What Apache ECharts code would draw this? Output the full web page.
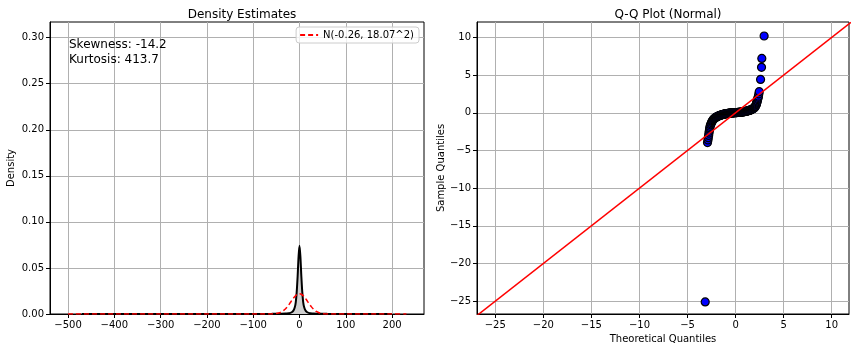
<!DOCTYPE html>
<html>
<head>
<meta charset="utf-8">
<script src="https://cdn.jsdelivr.net/npm/echarts@6/dist/echarts.min.js"></script>
<style>
  html, body { margin: 0; padding: 0; background: #fff; }
  #chart { width: 856px; height: 352px; }
</style>
</head>
<body>
<div id="chart"></div>
<script>
// left panel: kernel density of the data and the fitted normal
const kdeX = [-470, -300, -150, -60, -40, -30, -24, -20, -16, -13, -10, -8, -6, -4, -2, 0, 2, 4, 6, 8, 10, 13, 16, 20, 24, 30, 40, 60, 150, 200];
const kdeY = [0.0001, 0.0001, 0.0001, 0.0002, 0.0003, 0.0005, 0.0008, 0.0012, 0.0022, 0.0038, 0.0075, 0.013, 0.024, 0.041, 0.062, 0.074, 0.062, 0.041, 0.024, 0.013, 0.0075, 0.0038, 0.0022, 0.0012, 0.0008, 0.0005, 0.0003, 0.0002, 0.0001, 0.0001];
const normX = [-500, -400, -300, -200, -100, -80, -60, -50, -45, -40, -35, -30, -25, -20, -15, -10, -5, 0, 5, 10, 15, 20, 25, 30, 35, 40, 45, 50, 60, 80, 100, 200, 231];
const normY = [0, 0, 0, 0, 0, 0.000001, 0.000094, 0.0005, 0.00103, 0.00197, 0.00348, 0.00572, 0.00865, 0.0122, 0.01583, 0.0191, 0.02134, 0.0221, 0.02117, 0.0188, 0.01545, 0.01177, 0.00831, 0.00543, 0.00329, 0.00185, 0.00096, 0.00046, 0.000085, 0.000001, 0, 0, 0];
const normName = 'N(-0.26, 18.07^2)';
const statsText = ['Skewness: -14.2', 'Kurtosis: 413.7'];
const densityTicksX = [-500, -400, -300, -200, -100, 0, 100, 200];
const densityTicksY = [0, 0.05, 0.10, 0.15, 0.20, 0.25, 0.30];

// right panel: Q-Q points (theoretical, sample) and the 45 degree line
const qqTheo = [
  -3.16, -2.92, -2.87, -2.84, -2.80, -2.77, -2.74, -2.71, -2.68, -2.65, -2.60, -2.55, -2.50, -2.45, -2.40, -2.35,
  -2.30, -2.25, -2.20, -2.15, -2.10, -2.05, -2.00, -1.95, -1.90, -1.85, -1.80, -1.75, -1.70, -1.65, -1.60, -1.55,
  -1.50, -1.45, -1.40, -1.35, -1.30, -1.25, -1.20, -1.15, -1.10, -1.05, -1.00, -0.95, -0.90, -0.85, -0.80, -0.75,
  -0.70, -0.65, -0.60, -0.55, -0.50, -0.45, -0.40, -0.35, -0.30, -0.25, -0.20, -0.15, -0.10, -0.05, 0.00, 0.05,
  0.10, 0.15, 0.20, 0.25, 0.30, 0.35, 0.40, 0.45, 0.50, 0.55, 0.60, 0.65, 0.70, 0.75, 0.80, 0.85,
  0.90, 0.95, 1.00, 1.05, 1.10, 1.15, 1.20, 1.25, 1.30, 1.35, 1.40, 1.45, 1.50, 1.55, 1.60, 1.65,
  1.70, 1.75, 1.80, 1.85, 1.90, 1.95, 2.00, 2.04, 2.08, 2.12, 2.15, 2.18, 2.20, 2.23, 2.26, 2.29,
  2.32, 2.35, 2.38, 2.42, 2.46, 2.60, 2.70, 2.73, 2.97];
const qqSample = [
  -25.1, -3.95, -3.6, -3.3, -3.0, -2.7, -2.45, -2.2, -2.0, -1.8, -1.6, -1.45, -1.3, -1.15, -1.05, -0.95,
  -0.87, -0.81, -0.75, -0.70, -0.65, -0.61, -0.57, -0.535, -0.50, -0.47, -0.44, -0.41, -0.38, -0.355, -0.33, -0.31,
  -0.29, -0.27, -0.25, -0.23, -0.21, -0.195, -0.18, -0.165, -0.15, -0.135, -0.12, -0.11, -0.10, -0.09, -0.08, -0.07,
  -0.06, -0.05, -0.04, -0.035, -0.03, -0.025, -0.02, -0.015, -0.01, -0.005, 0.0, 0.005, 0.01, 0.015, 0.02, 0.025,
  0.03, 0.035, 0.04, 0.045, 0.05, 0.055, 0.06, 0.07, 0.08, 0.085, 0.09, 0.10, 0.11, 0.12, 0.13, 0.14,
  0.15, 0.16, 0.17, 0.185, 0.20, 0.215, 0.23, 0.25, 0.27, 0.29, 0.31, 0.33, 0.35, 0.375, 0.40, 0.43,
  0.46, 0.495, 0.53, 0.575, 0.62, 0.68, 0.75, 0.82, 0.9, 1.0, 1.1, 1.2, 1.33, 1.45, 1.6, 1.75,
  1.9, 2.05, 2.2, 2.5, 2.8, 4.43, 6.03, 7.22, 10.19];
const lineEnds = [-27, 12];
const qqTicks = [-25, -20, -15, -10, -5, 0, 5, 10];

const font = 'DejaVu Sans';
const minus = (s) => String(s).replace(/-/g, '\u2212');

function makeAxis(gridIndex, min, max, ticks, fmt, name, extra) {
  return Object.assign({
    type: 'value',
    gridIndex: gridIndex,
    min: min,
    max: max,
    name: name,
    nameLocation: 'middle',
    nameTextStyle: { fontFamily: font, fontSize: 10, color: '#000' },
    axisLine: { show: true, onZero: false, lineStyle: { color: '#000', width: 1 } },
    axisTick: { show: true, length: 4, customValues: ticks, lineStyle: { color: '#000' } },
    axisLabel: {
      customValues: ticks,
      fontFamily: font,
      fontSize: 10,
      color: '#000',
      margin: 6,
      formatter: fmt,
    },
    splitLine: { show: true, lineStyle: { color: '#b0b0b0', width: 1 } },
  }, extra || {});
}

const chart = echarts.init(document.getElementById('chart'), null, { renderer: 'canvas' });

const option = {
  backgroundColor: '#fff',
  animation: false,
  title: [
    { text: 'Density Estimates', left: 237, top: 4, textAlign: 'center',
      textStyle: { fontFamily: font, fontSize: 12, fontWeight: 'normal', color: '#000' } },
    { text: 'Q-Q Plot (Normal)', left: 663, top: 4, textAlign: 'center',
      textStyle: { fontFamily: font, fontSize: 12, fontWeight: 'normal', color: '#000' } },
  ],
  legend: {
    data: [normName],
    right: 437,
    top: 27,
    itemWidth: 18,
    itemHeight: 10,
    itemGap: 4,
    padding: [3, 5, 3, 3],
    backgroundColor: 'rgba(255,255,255,0.8)',
    borderColor: '#cccccc',
    borderWidth: 1,
    borderRadius: 3,
    itemStyle: { opacity: 0 },
    textStyle: { fontFamily: font, fontSize: 10, color: '#000' },
  },
  graphic: [
    {
      type: 'text',
      left: 69,
      top: 37,
      style: {
        text: statsText.join('\n'),
        fontFamily: font,
        fontSize: 12,
        lineHeight: 15,
        fill: '#000',
      },
      z: 100,
    },
  ],
  grid: [
    { left: 50, top: 22, width: 374, height: 292, show: true, borderColor: '#000', borderWidth: 1, backgroundColor: 'transparent' },
    { left: 477, top: 22, width: 372, height: 292, show: true, borderColor: '#000', borderWidth: 1, backgroundColor: 'transparent' },
  ],
  xAxis: [
    makeAxis(0, -539, 269, densityTicksX, (v) => minus(v), ''),
    makeAxis(1, -26.9, 11.8, qqTicks, (v) => minus(v), 'Theoretical Quantiles', { nameGap: 20 }),
  ],
  yAxis: [
    makeAxis(0, 0, 0.317, densityTicksY, (v) => v.toFixed(2), 'Density', { nameGap: 34 }),
    makeAxis(1, -26.7, 12.05, qqTicks, (v) => minus(v), 'Sample Quantiles', { nameGap: 31 }),
  ],
  series: [
    {
      name: 'KDE',
      type: 'line',
      xAxisIndex: 0,
      yAxisIndex: 0,
      data: kdeX.map((x, i) => [x, kdeY[i]]),
      smooth: 0.3,
      symbol: 'none',
      lineStyle: { color: '#000', width: 2 },
      areaStyle: { color: '#cfcfcf', opacity: 1 },
      z: 3,
    },
    {
      name: normName,
      type: 'line',
      xAxisIndex: 0,
      yAxisIndex: 0,
      data: normX.map((x, i) => [x, normY[i]]),
      smooth: 0.3,
      symbol: 'none',
      itemStyle: { color: '#ff0000' },
      lineStyle: { color: '#ff0000', width: 1.5, type: [5, 3] },
      z: 4,
    },
    {
      name: 'Sample',
      type: 'scatter',
      xAxisIndex: 1,
      yAxisIndex: 1,
      data: qqTheo.map((x, i) => [x, qqSample[i]]),
      symbol: 'circle',
      symbolSize: 8,
      itemStyle: { color: '#0000ff', borderColor: '#000', borderWidth: 1.2, opacity: 1 },
      z: 3,
    },
    {
      name: '45 line',
      type: 'line',
      xAxisIndex: 1,
      yAxisIndex: 1,
      data: lineEnds.map((v) => [v, v]),
      symbol: 'none',
      clip: true,
      lineStyle: { color: '#ff0000', width: 1.5 },
      z: 4,
    },
  ],
};

chart.setOption(option);
</script>
</body>
</html>
